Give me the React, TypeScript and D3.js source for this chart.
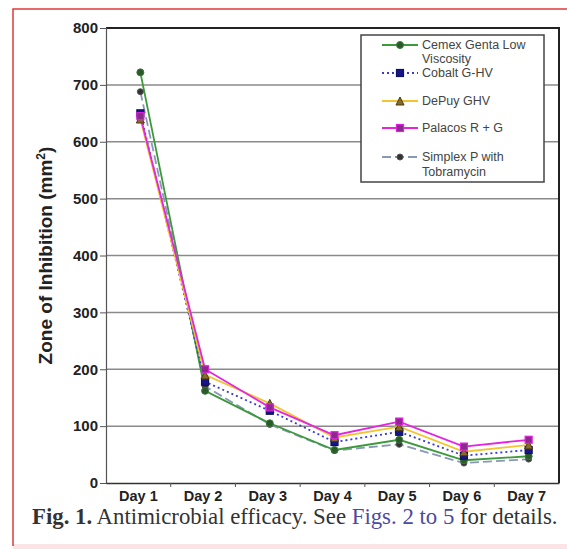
import React, { useEffect, useRef } from 'react';
import * as d3 from 'd3';

const days = ['Day 1', 'Day 2', 'Day 3', 'Day 4', 'Day 5', 'Day 6', 'Day 7'];
const yTicks = [0, 100, 200, 300, 400, 500, 600, 700, 800];

const cemex = [722, 162, 105, 58, 76, 40, 47];
const cobalt = [650, 178, 127, 72, 90, 48, 58];
const depuy = [640, 190, 140, 80, 99, 55, 67];
const palacos = [645, 200, 133, 84, 108, 64, 76];
const simplex = [688, 170, 103, 57, 68, 35, 42];

const seriesNames = ['Cemex Genta Low Viscosity', 'Cobalt G-HV', 'DePuy GHV', 'Palacos R + G', 'Simplex P with Tobramycin'];

const App = () => {
  const ref = useRef<SVGSVGElement>(null);

  useEffect(() => {
    const width = 567;
    const height = 549;
    const margin = { top: 28, right: 8, bottom: 66, left: 106 };
    const innerWidth = width - margin.left - margin.right;
    const innerHeight = height - margin.top - margin.bottom;
    const sans = 'Liberation Sans, Arial, sans-serif';

    const svg = d3.select(ref.current)
      .attr('width', width)
      .attr('height', height);

    svg.selectAll('*').remove();

    // page frame
    svg.append('rect').attr('x', 0).attr('y', 0).attr('width', width).attr('height', height).attr('fill', '#fff');
    svg.append('rect').attr('x', 13).attr('y', 544).attr('width', width - 13).attr('height', 5).attr('fill', '#fbe3e6');
    svg.append('path')
      .attr('d', `M${width},9 H13 V546`)
      .attr('fill', 'none')
      .attr('stroke', '#e03838')
      .attr('stroke-width', 1.5);

    const g = svg.append('g')
      .attr('transform', `translate(${margin.left},${margin.top})`);

    const x = d3.scaleBand().domain(days).range([0, innerWidth]);
    const y = d3.scaleLinear().domain([0, 800]).range([innerHeight, 0]);

    // gridlines
    g.selectAll('.grid')
      .data(yTicks.filter(t => t > 0 && t < 800))
      .enter().append('line')
      .attr('x1', 0).attr('x2', innerWidth)
      .attr('y1', d => y(d)).attr('y2', d => y(d))
      .attr('stroke', '#8a8a8a')
      .attr('stroke-width', 1.5);

    // top and right frame
    g.append('path')
      .attr('d', `M0,0 H${innerWidth} V${innerHeight}`)
      .attr('fill', 'none')
      .attr('stroke', '#222')
      .attr('stroke-width', 2);

    // y axis
    const yAxis = g.append('g')
      .call(d3.axisLeft(y).tickValues(yTicks).tickSize(6).tickPadding(2));
    yAxis.select('.domain').attr('stroke', '#555').attr('stroke-width', 1.2);
    yAxis.selectAll('line').attr('stroke', '#555');
    yAxis.selectAll('text')
      .attr('font-family', sans)
      .attr('font-size', 15)
      .attr('font-weight', 'bold')
      .attr('fill', '#222');

    // x axis
    const xAxis = g.append('g')
      .attr('transform', `translate(0,${innerHeight})`)
      .call(d3.axisBottom(x).tickSize(0).tickPadding(8));
    xAxis.select('.domain').attr('stroke', '#333').attr('stroke-width', 1.5);
    xAxis.selectAll('text')
      .attr('font-family', sans)
      .attr('font-size', 14.5)
      .attr('font-weight', 'bold')
      .attr('fill', '#222');
    g.selectAll('.xtick')
      .data(days.slice(1))
      .enter().append('line')
      .attr('x1', d => x(d)!).attr('x2', d => x(d)!)
      .attr('y1', innerHeight).attr('y2', innerHeight + 4)
      .attr('stroke', '#555');

    const title = svg.append('text')
      .attr('transform', `translate(52,${margin.top + innerHeight / 2}) rotate(-90)`)
      .attr('text-anchor', 'middle')
      .attr('font-family', sans)
      .attr('font-size', 19)
      .attr('font-weight', 'bold')
      .attr('fill', '#222');
    title.append('tspan').text('Zone of Inhibition (mm');
    title.append('tspan').attr('dy', -7).attr('font-size', 12).text('2');
    title.append('tspan').attr('dy', 7).text(')');

    const cx = (i: number) => x(days[i])! + x.bandwidth() / 2 + 2;

    const styles = [
      { data: simplex, line: '#8a98b8', dash: '9,4', marker: 'circle', fill: '#333', stroke: '#555', size: 3 },
      { data: cemex, line: '#3c9a3c', dash: null, marker: 'circle', fill: '#2a5a2a', stroke: '#3a7a3a', size: 3.5 },
      { data: cobalt, line: '#3a3ad0', dash: '2,3', marker: 'square', fill: '#16168a', stroke: '#101060', size: 7 },
      { data: depuy, line: '#f2c530', dash: null, marker: 'triangle', fill: '#8a6a28', stroke: '#4a3a10', size: 8 },
      { data: palacos, line: '#e424e0', dash: null, marker: 'square', fill: '#8a2a8a', stroke: '#e020e0', size: 7 },
    ];

    const line = d3.line<number>()
      .x((_, i) => cx(i))
      .y(d => y(d));

    const drawMarker = (sel: any, s: any, px: number, py: number) => {
      if (s.marker === 'circle') {
        sel.append('circle').attr('cx', px).attr('cy', py).attr('r', s.size)
          .attr('fill', s.fill).attr('stroke', s.stroke).attr('stroke-width', 1);
      } else if (s.marker === 'square') {
        sel.append('rect').attr('x', px - s.size / 2).attr('y', py - s.size / 2)
          .attr('width', s.size).attr('height', s.size)
          .attr('fill', s.fill).attr('stroke', s.stroke).attr('stroke-width', 1.2);
      } else {
        const h = s.size;
        sel.append('path')
          .attr('d', `M${px},${py - h / 2} L${px + h / 2},${py + h / 2} L${px - h / 2},${py + h / 2} Z`)
          .attr('fill', s.fill).attr('stroke', s.stroke).attr('stroke-width', 1);
      }
    };

    styles.forEach(s => {
      g.append('path')
        .datum(s.data)
        .attr('fill', 'none')
        .attr('stroke', s.line)
        .attr('stroke-width', 1.8)
        .attr('stroke-dasharray', s.dash)
        .attr('d', line);
    });
    styles.forEach(s => {
      s.data.forEach((v, i) => drawMarker(g, s, cx(i), y(v)));
    });

    // legend
    const legend = svg.append('g');
    legend.append('rect')
      .attr('x', 361).attr('y', 35).attr('width', 183).attr('height', 147)
      .attr('fill', '#fff').attr('stroke', '#444').attr('stroke-width', 1.5);
    const legendOrder = [1, 2, 3, 4, 0];
    const rowY = [45, 73, 101, 128, 157];
    legendOrder.forEach((si, k) => {
      const s = styles[si];
      const ly = rowY[k];
      legend.append('line')
        .attr('x1', 382).attr('x2', 418).attr('y1', ly).attr('y2', ly)
        .attr('stroke', s.line).attr('stroke-width', 1.8)
        .attr('stroke-dasharray', s.dash);
      drawMarker(legend, s, 400, ly);
      const name = seriesNames[k];
      const lines = k === 0 ? ['Cemex Genta Low', 'Viscosity'] : k === 4 ? ['Simplex P with', 'Tobramycin'] : [name];
      lines.forEach((t, j) => {
        legend.append('text')
          .attr('x', 422).attr('y', ly + 4 + j * (k === 0 ? 14 : 15))
          .attr('font-family', sans)
          .attr('font-size', 12.5)
          .attr('fill', '#444')
          .text(t);
      });
    });

    // caption
    const cap = svg.append('text')
      .attr('x', 32).attr('y', 524)
      .attr('font-family', 'Liberation Serif, Times New Roman, serif')
      .attr('font-size', 22.8)
      .attr('fill', '#333');
    cap.append('tspan').attr('font-weight', 'bold').text('Fig. 1.');
    cap.append('tspan').text(' Antimicrobial efficacy. See ');
    cap.append('tspan').attr('fill', '#4a4aa0').text('Figs. 2 to 5');
    cap.append('tspan').text(' for details.');
  }, []);

  return <svg ref={ref} style={{ position: 'absolute', left: 0, top: 0 }}></svg>;
};

export default App;
